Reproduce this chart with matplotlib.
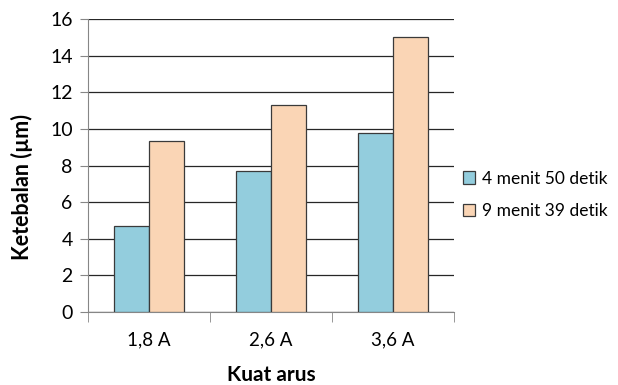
import matplotlib
matplotlib.use("Agg")
import matplotlib.pyplot as plt
import numpy as np

categories = ["1,8 A", "2,6 A", "3,6 A"]
series_names = ["4 menit 50 detik", "9 menit 39 detik"]
s1 = [4.7, 7.7, 9.75]
s2 = [9.35, 11.3, 15.0]
yticks = [0, 2, 4, 6, 8, 10, 12, 14, 16]

plt.rcParams['font.family'] = ['Lato', 'DejaVu Sans']

fig = plt.figure(figsize=(6.18, 3.85), dpi=100)
ax = fig.add_axes([0.1424, 0.1896, 0.5922, 0.761])

x = np.arange(len(categories))
w = 0.283
ax.bar(x - w/2, s1, w, color="#93CDDD", edgecolor="#3a3a3a", linewidth=0.9, label=series_names[0], zorder=3)
ax.bar(x + w/2, s2, w, color="#FAD5B5", edgecolor="#3a3a3a", linewidth=0.9, label=series_names[1], zorder=3)

ax.set_xlim(-0.5, 2.5)
ax.set_ylim(0, 16)
ax.set_yticks(yticks)
ax.yaxis.grid(True, color="#262626", linewidth=0.9, zorder=0)
ax.set_xticks(x)
ax.set_xticklabels(categories, fontsize=13.5)
ax.set_xticks([-0.5, 0.5, 1.5, 2.5], minor=True)
ax.tick_params(axis='x', which='major', length=0, pad=14)
ax.tick_params(axis='x', which='minor', length=7, color="#868686")
ax.tick_params(axis='y', length=6, color="#868686", labelsize=14, pad=5)
for s in ["top", "right"]:
    ax.spines[s].set_visible(False)
for s in ["left", "bottom"]:
    ax.spines[s].set_color("#868686")

ax.set_xlabel("Kuat arus", fontsize=15, fontweight="bold", labelpad=12)
ax.set_ylabel("Ketebalan (µm)", fontsize=15.5, fontweight="bold")
ax.yaxis.set_label_coords(-0.15, 0.425)

leg = ax.legend(loc="center left", bbox_to_anchor=(1.0, 0.40), frameon=False,
                fontsize=12.5, handlelength=0.7, handleheight=0.7, handletextpad=0.4,
                labelspacing=0.95, borderaxespad=0.1)

fig.savefig("out.png", dpi=100)
